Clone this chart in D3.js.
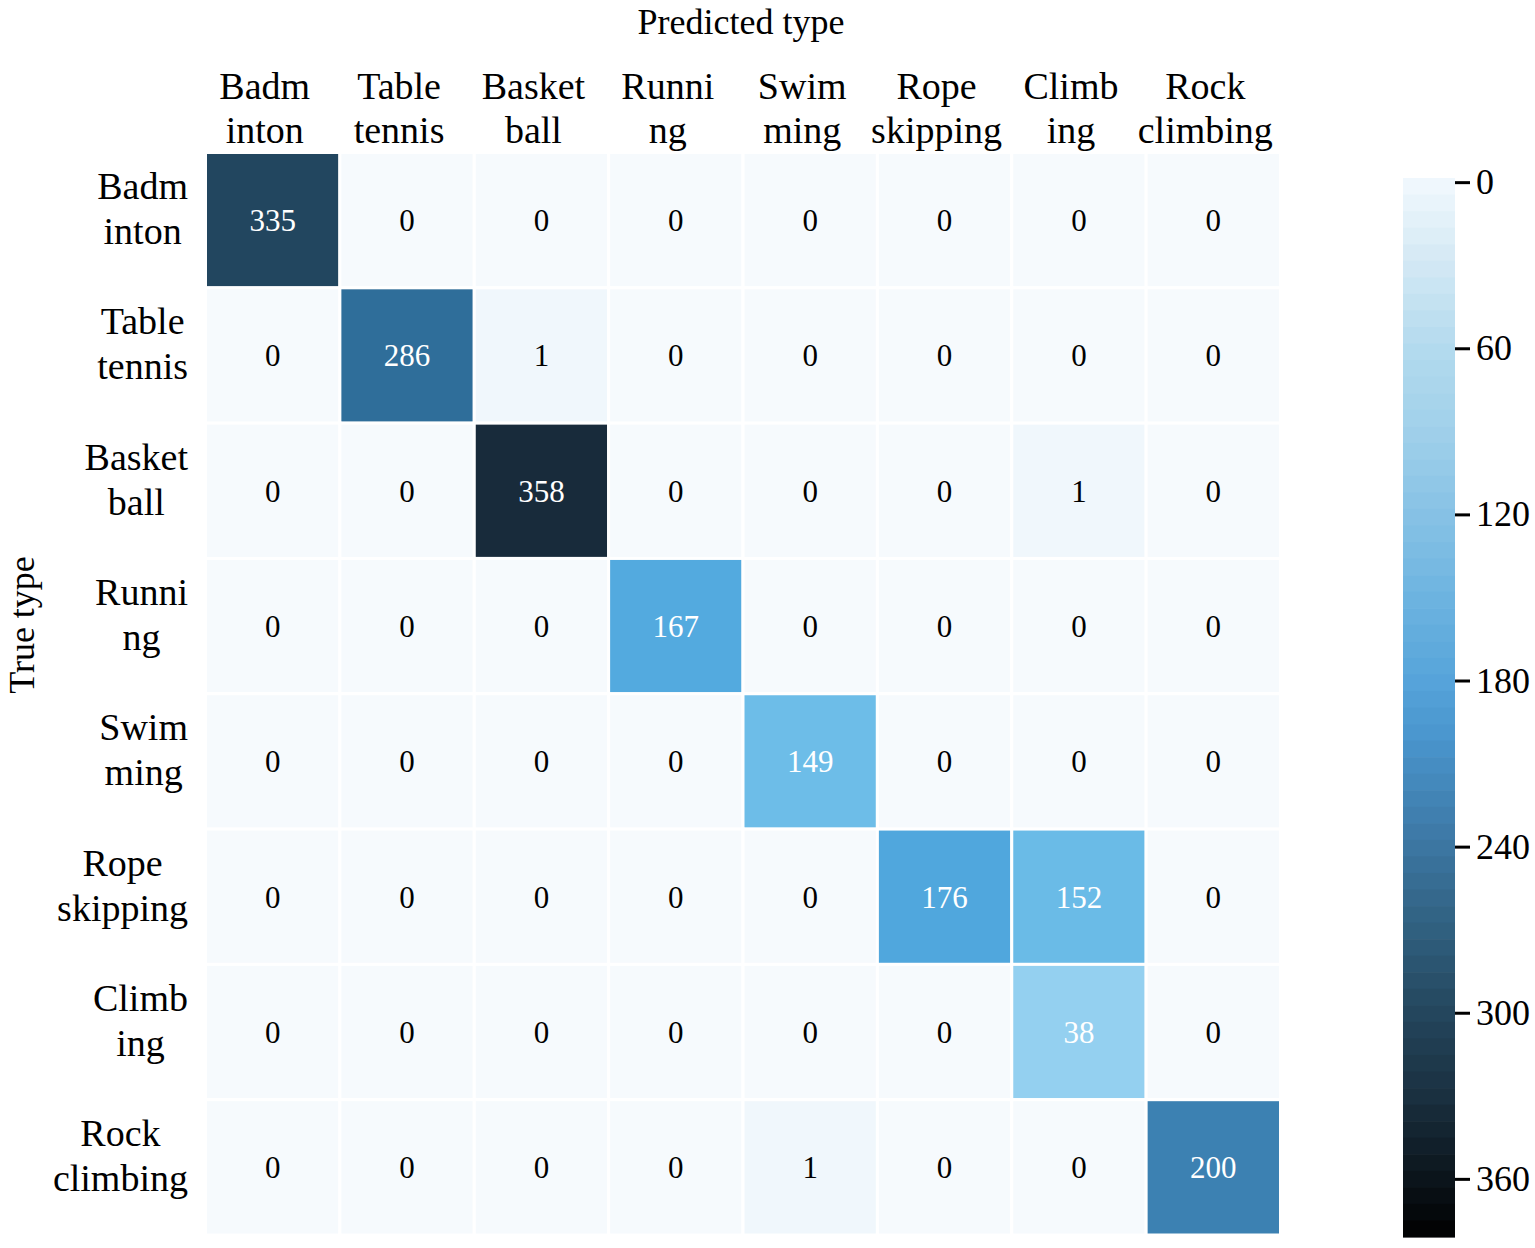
<!DOCTYPE html>
<html>
<head>
<meta charset="utf-8">
<script src="https://cdn.jsdelivr.net/npm/d3@7"></script>
<style>
  body { margin: 0; background: #fff; }
  text { font-family: "Liberation Serif", "Times New Roman", serif; }
</style>
</head>
<body>
<div id="heatmap"></div>
<script>
// class names, split in two lines like the original tick labels
var predLabels = [["Badm", "inton"], ["Table", "tennis"], ["Basket", "ball"], ["Runni", "ng"],
                  ["Swim", "ming"], ["Rope", "skipping"], ["Climb", "ing"], ["Rock", "climbing"]];
var trueLabels = [["Badm", "inton"], ["Table", "tennis"], ["Basket", "ball"], ["Runni", "ng"],
                  ["Swim", "ming"], ["Rope", "skipping"], ["Climb", "ing"], ["Rock", "climbing"]];

// rows = true type, cols = predicted type
var row0 = [335, 0, 0, 0, 0, 0, 0, 0];
var row1 = [0, 286, 1, 0, 0, 0, 0, 0];
var row2 = [0, 0, 358, 0, 0, 0, 1, 0];
var row3 = [0, 0, 0, 167, 0, 0, 0, 0];
var row4 = [0, 0, 0, 0, 149, 0, 0, 0];
var row5 = [0, 0, 0, 0, 0, 176, 152, 0];
var row6 = [0, 0, 0, 0, 0, 0, 38, 0];
var row7 = [0, 0, 0, 0, 1, 0, 0, 200];
var matrix = [row0, row1, row2, row3, row4, row5, row6, row7];

var cbarTicks = [0, 60, 120, 180, 240, 300, 360];

var width = 1535, height = 1248;

var svg = d3.select("#heatmap").append("svg")
    .attr("width", width)
    .attr("height", height);

var idx = d3.range(8);

var x = d3.scaleBand()
    .domain(idx)
    .range([205.5, 1280.5]);

var y = d3.scaleBand()
    .domain(idx)
    .range([152.5, 1235]);

// colour ramp read from the cells
var color = d3.scaleLinear()
    .domain([0, 2, 38, 150, 167, 180, 200, 286, 335, 358, 381])
    .range(["#f6fafd", "#e9f4fb", "#94d0f0", "#6dbde8", "#53aadf", "#4fa5dc",
            "#3c81b2", "#2f6e9a", "#22465f", "#182b3b", "#020405"])
    .clamp(true);

// colour ramp (it renders a bit lighter than the cells)
var cbarColor = d3.scaleLinear()
    .domain([0, 30, 60, 90, 120, 150, 180, 200, 240, 270, 300, 330, 360, 381])
    .range(["#f0f8fd", "#d2e8f4", "#b3daee", "#a0d0ea", "#87c2e5", "#6db3e0", "#56a4da",
            "#4a96ce", "#3c76a2", "#30607f", "#24465d", "#1a3040", "#0b141b", "#000000"])
    .clamp(true);

var cells = [];
matrix.forEach(function(row, i) {
    row.forEach(function(v, j) {
        cells.push({r: i, c: j, v: v});
    });
});

svg.selectAll(".cell")
    .data(cells)
    .enter().append("rect")
    .attr("class", "cell")
    .attr("x", function(d) { return x(d.c); })
    .attr("y", function(d) { return y(d.r); })
    .attr("width", x.bandwidth())
    .attr("height", y.bandwidth())
    .attr("fill", function(d) { return color(d.v); })
    .attr("stroke", "#fff")
    .attr("stroke-width", 3);

svg.selectAll(".cellText")
    .data(cells)
    .enter().append("text")
    .attr("class", "cellText")
    .attr("x", function(d) { return x(d.c) + x.bandwidth() / 2; })
    .attr("y", function(d) { return y(d.r) + y.bandwidth() / 2; })
    .attr("dy", ".35em")
    .style("text-anchor", "middle")
    .style("font-size", "31px")
    .style("fill", function(d) { return d.v > 20 ? "#fff" : "#000"; })
    .text(function(d) { return d.v; });

// column (predicted) labels on top
var colLab = svg.selectAll(".colLabel")
    .data(predLabels)
    .enter().append("text")
    .attr("class", "colLabel")
    .style("text-anchor", "middle")
    .style("font-size", "38px");

colLab.selectAll("tspan")
    .data(function(d, i) { return d.map(function(s) { return {s: s, i: i}; }); })
    .enter().append("tspan")
    .attr("x", function(d) { return x(d.i) + x.bandwidth() / 2 - 8; })
    .attr("y", function(d, k) { return k == 0 ? 99 : 143; })
    .text(function(d) { return d.s; });

// row (true) labels, block right aligned, lines centred in the block
var rowLab = svg.selectAll(".rowLabel")
    .data(trueLabels)
    .enter().append("g")
    .attr("class", "rowLabel");

rowLab.each(function(d, i) {
    var g = d3.select(this);
    var t = g.selectAll("text")
        .data(d)
        .enter().append("text")
        .style("font-size", "38px")
        .style("text-anchor", "middle")
        .attr("y", function(s, k) { return y(i) + y.bandwidth() / 2 + (k == 0 ? -21 : 24); })
        .text(function(s) { return s; });
    var w = 0;
    t.each(function() { w = Math.max(w, this.getComputedTextLength()); });
    t.attr("x", 188 - w / 2);
});

svg.append("text")
    .attr("x", (x.range()[0] + x.range()[1]) / 2 - 2)
    .attr("y", 34)
    .style("text-anchor", "middle")
    .style("font-size", "36px")
    .text("Predicted type");

svg.append("text")
    .attr("transform", "translate(34,625) rotate(-90)")
    .style("text-anchor", "middle")
    .style("font-size", "36px")
    .text("True type");

// colour bar, drawn as narrow bands like the original
var cbY = d3.scaleLinear()
    .domain([-1.5, 381])
    .range([178, 1237]);

var nBands = 64;
var bandStep = (cbY.domain()[1] - cbY.domain()[0]) / nBands;
var bands = d3.range(nBands).map(function(k) { return cbY.domain()[0] + k * bandStep; });

svg.selectAll(".cbBand")
    .data(bands)
    .enter().append("rect")
    .attr("class", "cbBand")
    .attr("x", 1403)
    .attr("y", function(v) { return cbY(v); })
    .attr("width", 52)
    .attr("height", function(v) { return cbY(v + bandStep) - cbY(v) + 0.6; })
    .attr("fill", function(v) { return cbarColor(v + bandStep / 2); });

var cbAxis = svg.append("g")
    .attr("class", "cbAxis")
    .attr("transform", "translate(1455,0)")
    .call(d3.axisRight(cbY).tickValues(cbarTicks).tickSize(15).tickPadding(6));

cbAxis.select(".domain").remove();
cbAxis.selectAll("line")
    .attr("stroke", "#000")
    .attr("stroke-width", 3);
cbAxis.selectAll("text")
    .attr("fill", "#000")
    .style("font-family", "Liberation Serif, serif")
    .style("font-size", "36px");
</script>
</body>
</html>
